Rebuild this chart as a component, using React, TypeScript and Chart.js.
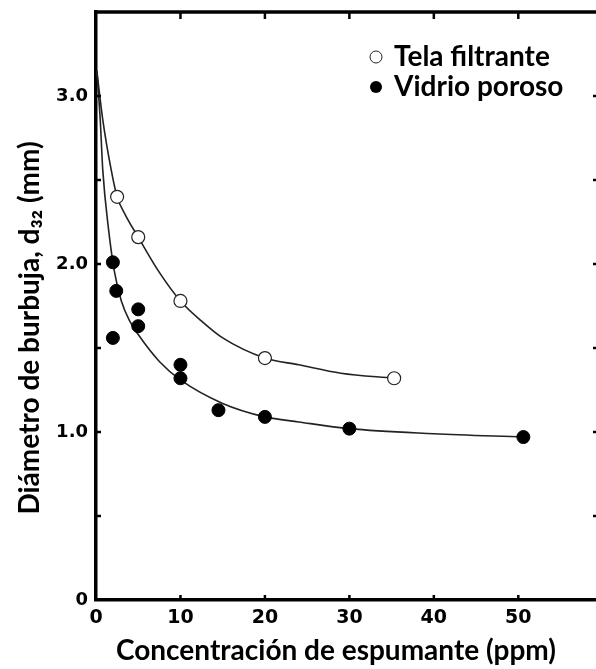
import React, { useEffect, useRef } from "react";
import { Chart, registerables } from "chart.js";

Chart.register(...registerables);

// Measured data (ppm, mm)
const telaX = [2.5, 5, 10, 20, 35.3];
const telaY = [2.4, 2.16, 1.78, 1.44, 1.32];
const vidrioX = [2.0, 2.4, 2.0, 5, 5, 10, 10, 14.5, 20, 30, 50.6];
const vidrioY = [2.01, 1.84, 1.56, 1.73, 1.63, 1.4, 1.32, 1.13, 1.09, 1.02, 0.97];

// Fitted curves
const telaCurveX = [0.1, 0.8, 1.8, 2.5, 3.5, 5, 7.5, 10, 12.5, 15, 20, 24, 29, 35.3];
const telaCurveY = [3.15, 2.86, 2.56, 2.4, 2.29, 2.16, 1.95, 1.78, 1.66, 1.56, 1.44, 1.4, 1.35, 1.32];
const vidrioCurveX = [0.1, 0.5, 0.8, 1.5, 2.2, 3, 4, 5, 7.5, 10, 15, 20, 24, 30, 40, 50.6];
const vidrioCurveY = [3.15, 2.86, 2.56, 2.2, 1.95, 1.78, 1.66, 1.58, 1.42, 1.31, 1.17, 1.09, 1.06, 1.02, 0.99, 0.97];

// Tick labels
const xTickValues = [0, 10, 20, 30, 40, 50];
const yLabelValues = [0, 1, 2, 3];
const yLabelTexts = ["0", "1.0", "2.0", "3.0"];
const minorYTicks = [0.5, 1, 1.5, 2, 2.5, 3];
const innerXTicks = [10, 20, 30, 40, 50];

const legendItems = ["Tela filtrante", "Vidrio poroso"];
const xTitle = "Concentración de espumante (ppm)";
const yTitle = "Diámetro de burbuja, d₃₂ (mm)";

const TITLE_FONT = "bold 28px Lato, 'Open Sans', sans-serif";
const TICK_FONT_FAMILY = "'DejaVu Sans', sans-serif";

const decorPlugin = {
  id: "decor",
  afterDraw(chart: any) {
    const { ctx, chartArea, scales } = chart;
    const { left, right, top, bottom } = chartArea;
    const x = scales.x;
    const y = scales.y;
    ctx.save();
    ctx.strokeStyle = "#000";
    // top border
    ctx.lineWidth = 3.5;
    ctx.beginPath();
    ctx.moveTo(left - 1.5, top);
    ctx.lineTo(right, top);
    ctx.stroke();
    // inner ticks
    ctx.lineWidth = 2.5;
    innerXTicks.forEach((v) => {
      const px = x.getPixelForValue(v);
      ctx.beginPath();
      ctx.moveTo(px, top);
      ctx.lineTo(px, top + 7);
      ctx.stroke();
      ctx.beginPath();
      ctx.moveTo(px, bottom);
      ctx.lineTo(px, bottom - 5);
      ctx.stroke();
    });
    minorYTicks.forEach((v) => {
      const py = y.getPixelForValue(v);
      ctx.beginPath();
      ctx.moveTo(left, py);
      ctx.lineTo(left + 5, py);
      ctx.stroke();
      ctx.beginPath();
      ctx.moveTo(right - 3, py);
      ctx.lineTo(right, py);
      ctx.stroke();
    });
    // legend
    const lx = 376;
    const ly = [57, 87];
    legendItems.forEach((t, i) => {
      ctx.beginPath();
      ctx.arc(lx, ly[i], 6, 0, Math.PI * 2);
      if (i === 0) {
        ctx.fillStyle = "#fff";
        ctx.fill();
        ctx.lineWidth = 1;
        ctx.strokeStyle = "#222";
        ctx.stroke();
      } else {
        ctx.fillStyle = "#000";
        ctx.fill();
      }
      ctx.fillStyle = "#000";
      ctx.font = TITLE_FONT;
      ctx.textAlign = "left";
      ctx.textBaseline = "middle";
      ctx.fillText(t, 394, ly[i]);
    });
    // axis titles
    ctx.fillStyle = "#000";
    ctx.font = TITLE_FONT;
    ctx.textAlign = "center";
    ctx.textBaseline = "middle";
    ctx.fillText(xTitle, 336, 651);
    ctx.translate(30, 328);
    ctx.rotate(-Math.PI / 2);
    ctx.fillText(yTitle, 0, 0);
    ctx.restore();
  },
};

export default function App() {
  const ref = useRef<HTMLCanvasElement>(null);
  useEffect(() => {
    if (!ref.current) return;
    const chart = new Chart(ref.current, {
      type: "scatter",
      data: {
        datasets: [
          {
            label: "Tela filtrante",
            data: telaX.map((v, i) => ({ x: v, y: telaY[i] })),
            pointRadius: 6.5,
            pointBackgroundColor: "#fff",
            pointBorderColor: "#222",
            pointBorderWidth: 1.2,
            order: 0,
          },
          {
            label: "Vidrio poroso",
            data: vidrioX.map((v, i) => ({ x: v, y: vidrioY[i] })),
            pointRadius: 6.5,
            pointBackgroundColor: "#000",
            pointBorderColor: "#000",
            pointBorderWidth: 1,
            order: 0,
          },
          {
            type: "line",
            label: "curva tela",
            data: telaCurveX.map((v, i) => ({ x: v, y: telaCurveY[i] })),
            showLine: true,
            pointRadius: 0,
            borderColor: "#222",
            borderWidth: 1.6,
            cubicInterpolationMode: "monotone",
            fill: false,
            order: 1,
          },
          {
            type: "line",
            label: "curva vidrio",
            data: vidrioCurveX.map((v, i) => ({ x: v, y: vidrioCurveY[i] })),
            showLine: true,
            pointRadius: 0,
            borderColor: "#222",
            borderWidth: 1.6,
            cubicInterpolationMode: "monotone",
            fill: false,
            order: 1,
          },
        ] as any,
      },
      options: {
        animation: false,
        responsive: false,
        maintainAspectRatio: false,
        layout: { autoPadding: false, padding: { left: 0, top: 12, right: 0, bottom: 0 } },
        plugins: { legend: { display: false }, tooltip: { enabled: false } },
        scales: {
          x: {
            type: "linear",
            min: 0,
            max: 59.2,
            grid: { display: false, drawTicks: false },
            border: { display: true, color: "#000", width: 3.5 },
            afterFit: (s: any) => {
              s.height = 69;
              s.paddingLeft = 0;
              s.paddingRight = 0;
            },
            ticks: {
              stepSize: 10,
              includeBounds: false,
              padding: 7,
              color: "#000",
              font: { family: TICK_FONT_FAMILY, weight: "bold", size: 19 },
              callback: (v: any) => (xTickValues.includes(v) ? String(v) : ""),
            },
          },
          y: {
            type: "linear",
            min: 0,
            max: 3.5,
            grid: { display: false, drawTicks: false },
            border: { display: true, color: "#000", width: 3.5 },
            afterFit: (s: any) => {
              s.width = 96;
              s.paddingTop = 0;
              s.paddingBottom = 0;
            },
            ticks: {
              stepSize: 0.5,
              includeBounds: false,
              padding: 8,
              color: "#000",
              font: { family: TICK_FONT_FAMILY, weight: "bold", size: 18 },
              callback: (v: any) => {
                const i = yLabelValues.indexOf(v);
                return i >= 0 ? yLabelTexts[i] : "";
              },
            },
          },
        },
      },
      plugins: [decorPlugin],
    });
    return () => chart.destroy();
  }, []);
  return (
    <div style={{ position: "absolute", left: 0, top: 0, width: 596, height: 669, background: "#fff" }}>
      <canvas ref={ref} width={596} height={669} style={{ display: "block" }} />
    </div>
  );
}
